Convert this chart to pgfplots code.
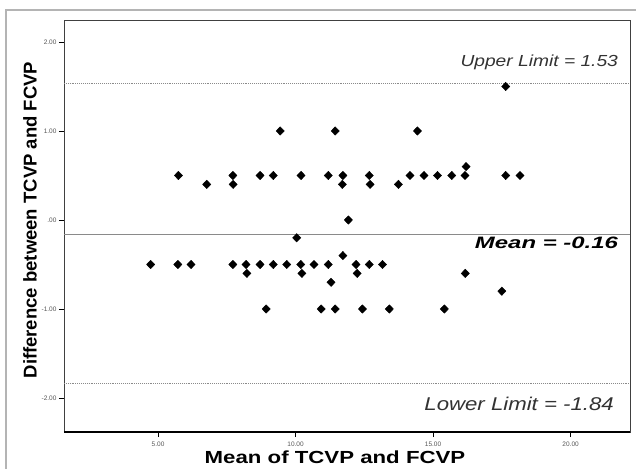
\documentclass[border=0pt]{standalone}
\usepackage{fontspec}
\setmainfont{Liberation Sans}
\usepackage{pgfplots}
\pgfplotsset{compat=1.18}
\newfontfamily\widefont[FakeStretch=1.2]{Liberation Sans}
\newfontfamily\xwidefont[FakeStretch=1.45]{Liberation Sans}
\newfontfamily\xlabfont[FakeStretch=1.27]{Liberation Sans}
\definecolor{tickgray}{HTML}{555555}
\definecolor{linegray}{HTML}{8A8A8A}
\definecolor{framegray}{HTML}{B4B4B4}
\begin{document}
\begin{tikzpicture}
\useasboundingbox (-64pt,-36pt) rectangle (572pt,432pt);
\fill[white] (-64pt,-36pt) rectangle (572pt,432pt);
\draw[framegray, line width=2pt] (-58pt,-60pt) rectangle (600pt,422pt);
\begin{axis}[at={(0,0)}, anchor=south west, scale only axis,
  width=566pt, height=412pt,
  xmin=1.58, xmax=22.16, ymin=-2.382, ymax=2.247,
  xtick={5,10,15,20}, xticklabels={5.00,10.00,15.00,20.00},
  ytick={-2,-1,0,1,2}, yticklabels={-2.00,-1.00,.00,1.00,2.00},
  tick align=outside, xtick pos=bottom, ytick pos=left,
  major tick length=5pt,
  x tick style={black, line width=1pt},
  y tick style={black, line width=0.6pt},
  ticklabel style={font=\fontsize{6.5}{7.5}\selectfont, text=tickgray},
  xticklabel style={yshift=-1pt},
  yticklabel style={xshift=1pt},
  /pgf/number format/assume math mode=true,
  axis line style={draw=black!75, line width=0.8pt},
  clip=false,
]
\draw[black, line width=1.4pt] (axis cs:1.58,-2.382) -- (axis cs:22.16,-2.382);
\addplot[linegray, densely dotted, line width=0.9pt] coordinates {(1.58,1.53) (22.16,1.53)};
\addplot[linegray, line width=1.2pt] coordinates {(1.58,-0.16) (22.16,-0.16)};
\addplot[linegray, densely dotted, line width=0.9pt] coordinates {(1.58,-1.84) (22.16,-1.84)};
\addplot[only marks, mark=diamond*, mark size=4.2pt, mark options={fill=black, draw=black, xscale=1.3}] coordinates {
(17.64,1.5)
(9.44,1.0) (11.44,1.0) (14.43,1.0)
(16.2,0.6)
(5.74,0.5) (7.72,0.5) (8.71,0.5) (9.19,0.5) (10.2,0.5) (11.19,0.5) (11.72,0.5) (12.68,0.5)
(14.16,0.5) (14.67,0.5) (15.16,0.5) (15.68,0.5) (16.16,0.5) (17.64,0.5) (18.16,0.5)
(6.77,0.4) (7.73,0.4) (11.7,0.4) (12.71,0.4) (13.74,0.4)
(11.92,0.0)
(10.04,-0.2)
(11.72,-0.4)
(4.73,-0.5) (5.72,-0.5) (6.2,-0.5) (7.72,-0.5) (8.2,-0.5) (8.71,-0.5) (9.19,-0.5) (9.68,-0.5)
(10.19,-0.5) (10.67,-0.5) (11.19,-0.5) (12.2,-0.5) (12.68,-0.5) (13.16,-0.5)
(8.23,-0.6) (10.23,-0.6) (12.24,-0.6) (16.17,-0.6)
(11.29,-0.7)
(17.5,-0.8)
(8.93,-1.0) (10.93,-1.0) (11.44,-1.0) (12.43,-1.0) (13.41,-1.0) (15.41,-1.0)
};
\node[anchor=east, text=black!80, font=\fontsize{16}{18}\selectfont\itshape\widefont] at (axis cs:21.85,1.775) {Upper Limit = 1.53};
\node[anchor=east, text=black, font=\fontsize{16.5}{18}\selectfont\bfseries\itshape\xwidefont] at (axis cs:21.85,-0.26) {Mean = -0.16};
\node[anchor=east, text=black!80, font=\fontsize{18.5}{20}\selectfont\itshape\widefont] at (axis cs:21.7,-2.07) {Lower Limit = -1.84};
\end{axis}
\node[rotate=90, font=\fontsize{18.5}{20}\selectfont\bfseries] at (-34pt,212pt) {Difference between TCVP and FCVP};
\node[font=\fontsize{17.5}{19}\selectfont\bfseries\xlabfont, inner sep=1pt] at (271pt,-25.5pt) {Mean of TCVP and FCVP};
\end{tikzpicture}
\end{document}
